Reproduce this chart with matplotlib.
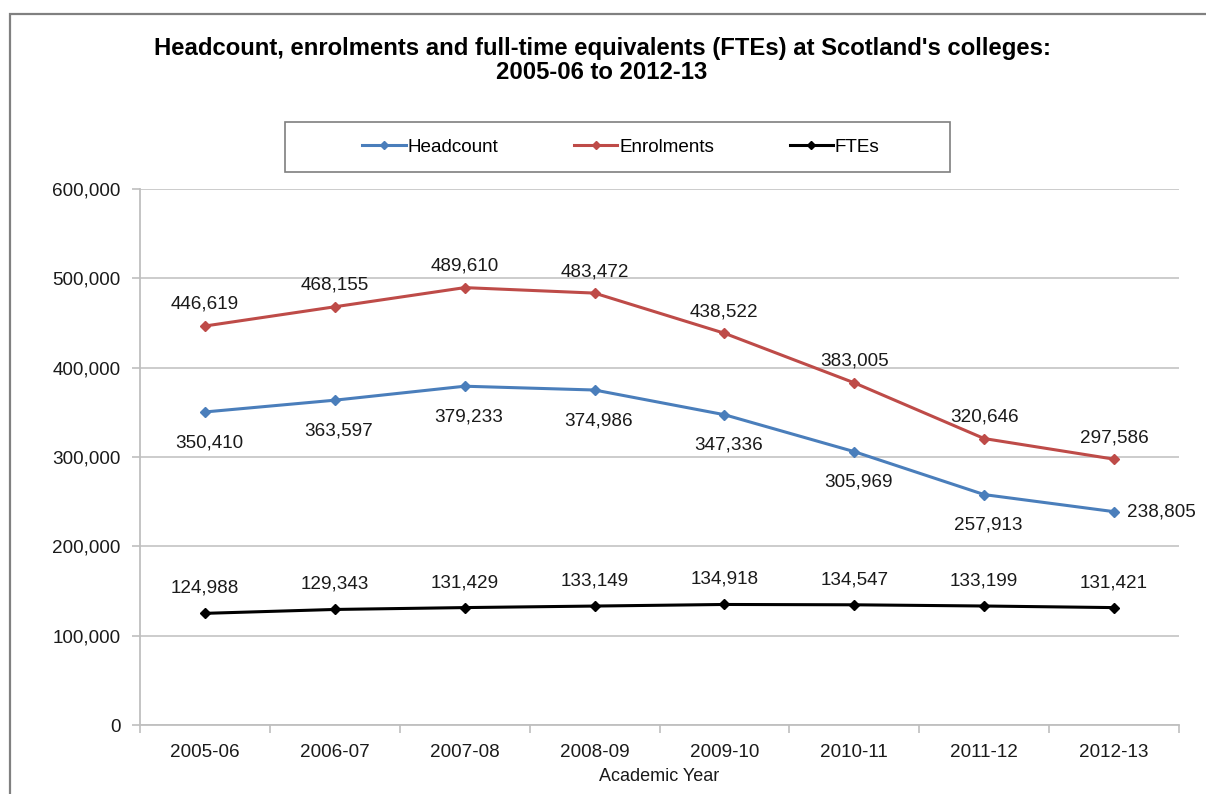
import matplotlib
matplotlib.use("Agg")
import matplotlib.pyplot as plt
from matplotlib.patches import Rectangle
from matplotlib.ticker import FuncFormatter, FixedLocator
import numpy as np

plt.rcParams['font.family'] = ['Liberation Sans', 'DejaVu Sans']

years = ["2005-06", "2006-07", "2007-08", "2008-09", "2009-10", "2010-11", "2011-12", "2012-13"]
headcount = [350410, 363597, 379233, 374986, 347336, 305969, 257913, 238805]
enrolments = [446619, 468155, 489610, 483472, 438522, 383005, 320646, 297586]
ftes = [124988, 129343, 131429, 133149, 134918, 134547, 133199, 131421]

title = "Headcount, enrolments and full-time equivalents (FTEs) at Scotland's colleges:\n2005-06 to 2012-13"

W, H = 1206, 794
fig = plt.figure(figsize=(W / 100, H / 100), dpi=100)
ax = fig.add_axes([140 / W, 1 - 725 / H, (1179 - 140) / W, (725 - 189) / H])

x = np.arange(len(years))
c_head = "#4A7EBB"
c_enr = "#BE4B48"
c_fte = "#000000"

lh, = ax.plot(x, headcount, color=c_head, lw=2.2, marker="D", ms=5, label="Headcount", zorder=3)
le, = ax.plot(x, enrolments, color=c_enr, lw=2.2, marker="D", ms=5, label="Enrolments", zorder=3)
lf, = ax.plot(x, ftes, color=c_fte, lw=2.2, marker="D", ms=5, label="FTEs", zorder=3)

fs = 13.6
tc = "#1a1a1a"
def fmt(v):
    return f"{v:,.0f}"

for i, v in enumerate(enrolments):
    ax.annotate(fmt(v), (x[i], v), xytext=(0, 15.5), textcoords="offset points",
                ha="center", va="center", fontsize=fs, color=tc)
for i, v in enumerate(headcount):
    if i == len(headcount) - 1:
        ax.annotate(fmt(v), (x[i], v), xytext=(9, 0), textcoords="offset points",
                    ha="left", va="center", fontsize=fs, color=tc)
    else:
        ax.annotate(fmt(v), (x[i], v), xytext=(3, -22), textcoords="offset points",
                    ha="center", va="center", fontsize=fs, color=tc)
for i, v in enumerate(ftes):
    ax.annotate(fmt(v), (x[i], v), xytext=(0, 18), textcoords="offset points",
                ha="center", va="center", fontsize=fs, color=tc)

ax.set_xlim(-0.5, len(years) - 0.5)
ax.set_ylim(0, 600000)
ax.set_yticks(np.arange(0, 600001, 100000))
ax.yaxis.set_major_formatter(FuncFormatter(lambda v, p: f"{v:,.0f}"))
ax.set_xticks(x)
ax.set_xticklabels(years)
ax.xaxis.set_minor_locator(FixedLocator(np.arange(-0.5, len(years), 1.0)))
ax.tick_params(axis="x", which="major", length=0, pad=14, labelsize=fs, labelcolor=tc)
ax.tick_params(axis="x", which="minor", length=6, width=1.2, color="#BFBFBF", direction="out")
ax.tick_params(axis="y", which="major", length=6, width=1.2, color="#BFBFBF", pad=8,
               labelsize=fs, labelcolor=tc)
ax.grid(axis="y", color="#C8C8C8", lw=1.3)
ax.set_axisbelow(True)
for s in ["top", "right"]:
    ax.spines[s].set_visible(False)
for s in ["left", "bottom"]:
    ax.spines[s].set_color("#BFBFBF")
    ax.spines[s].set_linewidth(1.3)
ax.set_xlabel("Academic Year", fontsize=fs - 0.6, color=tc, labelpad=5)

fig.text(602 / W, 1 - 60.5 / H, title, ha="center", va="center", fontsize=17.2,
         fontweight="bold", linespacing=1.08, color="#000000")

# legend frame
fig.patches.append(Rectangle((285 / W, 1 - 172 / H), 665 / W, 50 / H, transform=fig.transFigure,
                             fill=False, edgecolor="#7F7F7F", lw=1.2, figure=fig))
fig.legend(handles=[lh, le, lf], loc="center", bbox_to_anchor=(621 / W, 1 - 147 / H),
           ncol=3, frameon=False, fontsize=fs, handlelength=2.3, handletextpad=0.1,
           columnspacing=4.0, markerscale=0.8)

# outer border
fig.patches.append(Rectangle((10 / W, -0.05), 1.1, 1 - 14 / H + 0.05, transform=fig.transFigure,
                             fill=False, edgecolor="#808080", lw=1.6, figure=fig))

fig.savefig("out.png", dpi=100)
